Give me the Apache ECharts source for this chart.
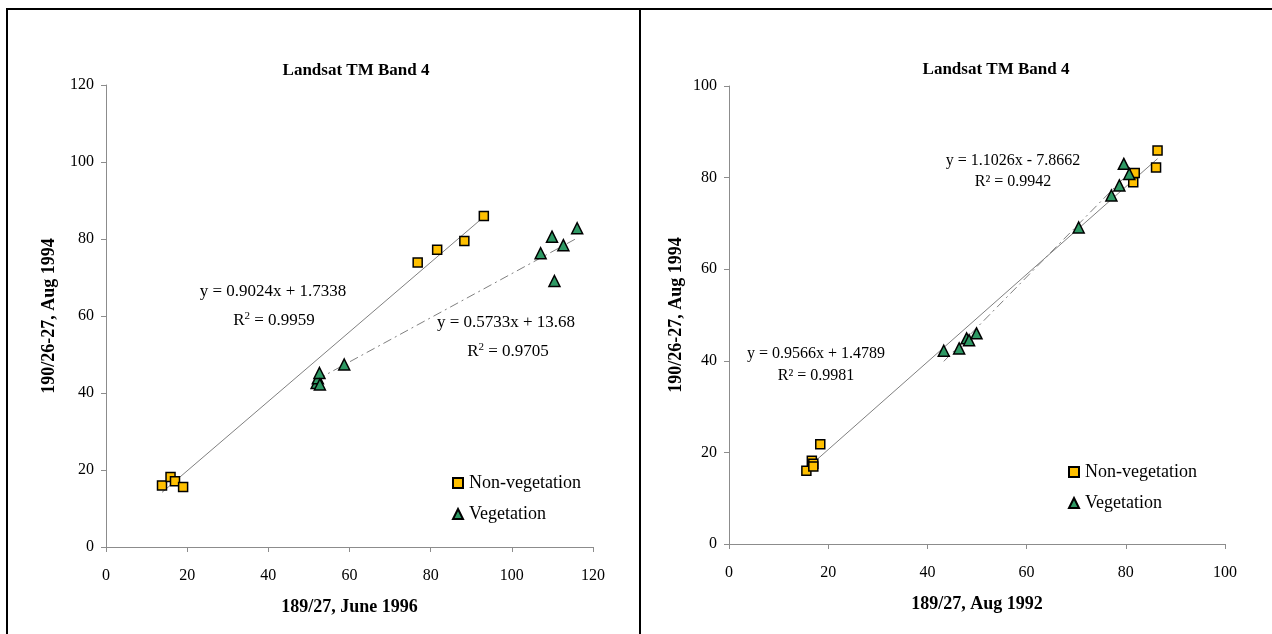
<!DOCTYPE html>
<html>
<head>
<meta charset="utf-8">
<script src="https://cdn.jsdelivr.net/npm/echarts@6/dist/echarts.min.js"></script>
<style>
  html, body { margin: 0; padding: 0; background: #fff; }
  #chart { width: 1272px; height: 634px; }
</style>
</head>
<body>
<div id="chart"></div>
<script>
// Band 4 digital numbers, June 1996 (x) vs Aug 1994 (y)
const leftNonVegX = [13.8, 15.9, 17.0, 19.0, 76.8, 81.6, 88.3, 93.1];
const leftNonVegY = [16.0, 18.2, 17.1, 15.6, 73.9, 77.2, 79.5, 86.0];
const leftVegX = [51.9, 52.2, 52.6, 52.7, 58.7, 107.1, 109.9, 110.5, 112.7, 116.1];
const leftVegY = [42.6, 43.8, 45.2, 42.2, 47.4, 76.3, 80.6, 69.1, 78.4, 82.8];

// Band 4 digital numbers, Aug 1992 (x) vs Aug 1994 (y)
const rightNonVegX = [15.6, 16.7, 17.0, 17.0, 18.4, 81.5, 81.8, 86.1, 86.4];
const rightNonVegY = [16.0, 18.2, 17.5, 16.9, 21.8, 79.0, 81.0, 82.2, 85.9];
const rightVegX = [43.3, 46.4, 47.9, 48.4, 49.9, 70.5, 77.1, 78.7, 79.6, 80.7];
const rightVegY = [42.2, 42.7, 44.9, 44.5, 46.0, 69.1, 76.1, 78.3, 83.0, 80.8];

// Linear fits [slope, intercept, R²]
const leftNonVegFit = [0.9024, 1.7338, 0.9959];
const leftVegFit = [0.5733, 13.68, 0.9705];
const rightNonVegFit = [0.9566, 1.4789, 0.9981];
const rightVegFit = [1.1026, -7.8662, 0.9942];

// Axis ranges [min, max, step]
const leftTicksX = [0, 120, 20];
const leftTicksY = [0, 120, 20];
const rightTicksX = [0, 100, 20];
const rightTicksY = [0, 100, 20];

const SERIF = '"Liberation Serif", "Times New Roman", serif';
const NONVEG_COLOR = '#FFC000';
const VEG_COLOR = '#2E9964';
const TREND_COLOR = '#808080';

function pairs(xs, ys) { return xs.map((x, i) => [x, ys[i]]); }
function fitLine(xs, fit) {
  const x0 = Math.min(...xs), x1 = Math.max(...xs);
  return [[x0, fit[0] * x0 + fit[1]], [x1, fit[0] * x1 + fit[1]]];
}
function eqText(fit) {
  const sign = fit[1] < 0 ? ' - ' : ' + ';
  return 'y = ' + fit[0].toFixed(4) + 'x' + sign + String(Math.abs(fit[1]));
}

function axisX(idx, t, name) {
  return {
    gridIndex: idx, type: 'value', min: t[0], max: t[1], interval: t[2],
    name: name, nameLocation: 'middle', nameGap: 51,
    nameTextStyle: { fontFamily: SERIF, fontWeight: 'bold', fontSize: 18, color: '#000' },
    axisLine: { show: true, lineStyle: { color: '#8c8c8c', width: 1 } },
    axisTick: { show: true, length: 5, lineStyle: { color: '#8c8c8c' } },
    axisLabel: { fontFamily: SERIF, fontSize: 16, color: '#000', margin: 21 },
    splitLine: { show: false }
  };
}
function axisY(idx, t, name, gap) {
  return {
    gridIndex: idx, type: 'value', min: t[0], max: t[1], interval: t[2],
    name: name, nameLocation: 'middle', nameGap: gap, nameRotate: 90,
    nameTextStyle: { fontFamily: SERIF, fontWeight: 'bold', fontSize: 18, color: '#000' },
    axisLine: { show: true, lineStyle: { color: '#8c8c8c', width: 1 } },
    axisTick: { show: true, length: 5, lineStyle: { color: '#8c8c8c' } },
    axisLabel: { fontFamily: SERIF, fontSize: 16, color: '#000', margin: 12 },
    splitLine: { show: false }
  };
}
function scatter(name, idx, data, symbol, color) {
  return {
    name: name, type: 'scatter', xAxisIndex: idx, yAxisIndex: idx,
    data: data, symbol: symbol, symbolSize: symbol === 'triangle' ? 11 : 9,
    itemStyle: { color: color, borderColor: '#000', borderWidth: 1.5, opacity: 1 },
    z: 5
  };
}
function trend(name, idx, data, dashed) {
  return {
    name: name, type: 'line', xAxisIndex: idx, yAxisIndex: idx,
    data: data, symbol: 'none', silent: true,
    lineStyle: { color: TREND_COLOR, width: 1, type: dashed ? [9, 4, 2, 4] : 'solid' },
    z: 3
  };
}
function legend(left, top) {
  return {
    left: left, top: top, orient: 'vertical', padding: 0, itemGap: 13,
    itemWidth: 10, itemHeight: 10,
    data: [
      { name: 'Non-vegetation', icon: 'rect' },
      { name: 'Vegetation', icon: 'triangle' }
    ],
    textStyle: { fontFamily: SERIF, fontSize: 18, color: '#000', padding: [0, 0, 0, 1] },
    selectedMode: false
  };
}
function label(x, y, text, size, rich) {
  return {
    type: 'text', x: x, y: y, z: 10,
    style: {
      text: text, fill: '#000', font: size + 'px ' + SERIF,
      align: 'center', verticalAlign: 'middle', rich: rich || undefined
    }
  };
}
const supRich = { sup: { fontSize: 11, fontFamily: SERIF, verticalAlign: 'bottom', padding: [0, 0, 9, 0] } };

const chart = echarts.init(document.getElementById('chart'), null, { renderer: 'canvas' });
chart.setOption({
  backgroundColor: '#fff',
  animation: false,
  title: [
    { text: 'Landsat TM Band 4', left: 351, top: 57, textAlign: 'center',
      textStyle: { fontFamily: SERIF, fontWeight: 'bold', fontSize: 17, color: '#000' } },
    { text: 'Landsat TM Band 4', left: 991, top: 56, textAlign: 'center',
      textStyle: { fontFamily: SERIF, fontWeight: 'bold', fontSize: 17, color: '#000' } }
  ],
  grid: [
    { left: 106, top: 85, width: 487, height: 462 },
    { left: 729, top: 86, width: 496, height: 458 }
  ],
  xAxis: [axisX(0, leftTicksX, '189/27, June 1996'), axisX(1, rightTicksX, '189/27, Aug 1992')],
  yAxis: [axisY(0, leftTicksY, '190/26-27, Aug 1994', 48), axisY(1, rightTicksY, '190/26-27, Aug 1994', 44)],
  legend: [legend(452, 474), legend(1068, 463)],
  series: [
    trend('Non-vegetation fit (1996)', 0, fitLine(leftNonVegX, leftNonVegFit), false),
    trend('Vegetation fit (1996)', 0, fitLine(leftVegX, leftVegFit), true),
    scatter('Non-vegetation', 0, pairs(leftNonVegX, leftNonVegY), 'rect', NONVEG_COLOR),
    scatter('Vegetation', 0, pairs(leftVegX, leftVegY), 'triangle', VEG_COLOR),
    trend('Non-vegetation fit (1992)', 1, fitLine(rightNonVegX, rightNonVegFit), false),
    trend('Vegetation fit (1992)', 1, fitLine(rightVegX, rightVegFit), true),
    scatter('Non-vegetation', 1, pairs(rightNonVegX, rightNonVegY), 'rect', NONVEG_COLOR),
    scatter('Vegetation', 1, pairs(rightVegX, rightVegY), 'triangle', VEG_COLOR)
  ],
  graphic: [
    // panel frame
    { type: 'line', shape: { x1: 6, y1: 9, x2: 1272, y2: 9 }, style: { stroke: '#000', lineWidth: 2 } },
    { type: 'line', shape: { x1: 7, y1: 8, x2: 7, y2: 634 }, style: { stroke: '#000', lineWidth: 2 } },
    { type: 'line', shape: { x1: 640, y1: 8, x2: 640, y2: 634 }, style: { stroke: '#000', lineWidth: 2 } },
    // fit equations
    label(273, 292, eqText(leftNonVegFit), 17),
    label(274, 321, 'R{sup|2} = ' + leftNonVegFit[2], 17, supRich),
    label(506, 323, eqText(leftVegFit), 17),
    label(508, 352, 'R{sup|2} = ' + leftVegFit[2], 17, supRich),
    label(1013, 161, eqText(rightVegFit), 16),
    label(1013, 182, 'R² = ' + rightVegFit[2], 16),
    label(816, 354, eqText(rightNonVegFit), 16),
    label(816, 376, 'R² = ' + rightNonVegFit[2], 16)
  ]
});
</script>
</body>
</html>
